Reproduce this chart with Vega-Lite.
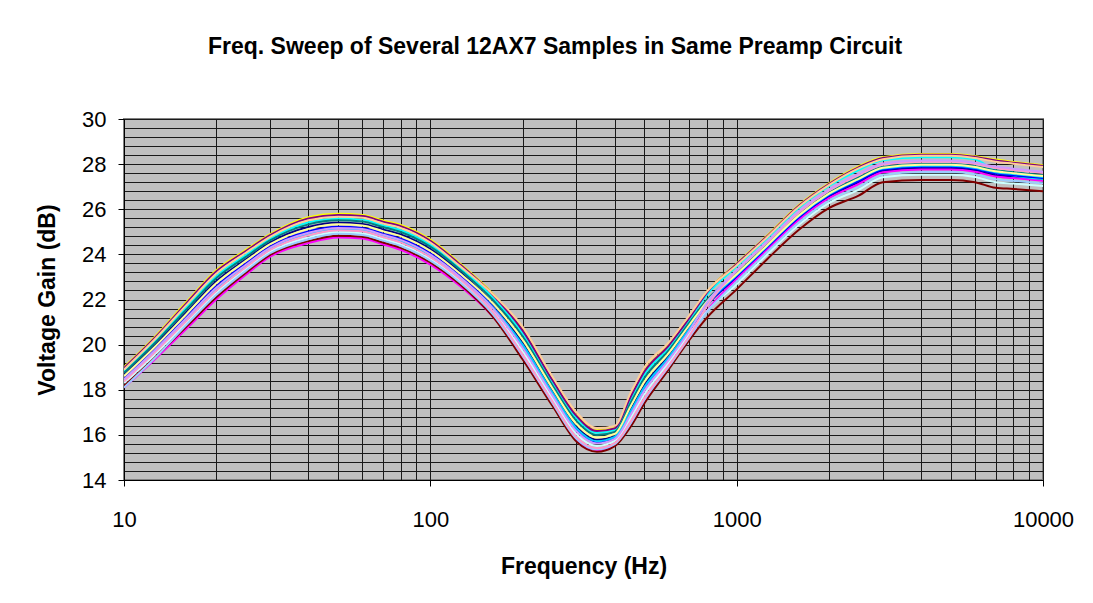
{
"$schema": "https://vega.github.io/schema/vega-lite/v6.json",
"width": 919, "height": 361,
"autosize": {"type": "none"},
"padding": {"left": 124, "top": 119, "right": 50, "bottom": 123},
"background": "white",
"title": {"text": "Freq. Sweep of Several 12AX7 Samples in Same Preamp Circuit", "font": "Liberation Sans", "fontSize": 23, "fontWeight": "bold", "color": "black", "anchor": "middle", "frame": "bounds", "offset": 49},
"config": {"view": {"fill": "#C0C0C0", "stroke": "#808080", "strokeWidth": 2}, "font": "Liberation Sans"},
"datasets": {"d": [
{"s":"S01","f":10,"g":18.66},{"s":"S01","f":12.5,"g":19.92},{"s":"S01","f":16,"g":21.44},{"s":"S01","f":20,"g":22.81},{"s":"S01","f":25,"g":23.78},{"s":"S01","f":30,"g":24.52},{"s":"S01","f":40,"g":25.21},{"s":"S01","f":50,"g":25.40},{"s":"S01","f":60,"g":25.35},{"s":"S01","f":70,"g":25.10},{"s":"S01","f":80,"g":24.88},{"s":"S01","f":100,"g":24.23},{"s":"S01","f":125,"g":23.22},{"s":"S01","f":160,"g":21.82},{"s":"S01","f":200,"g":20.08},{"s":"S01","f":250,"g":17.95},{"s":"S01","f":300,"g":16.35},{"s":"S01","f":350,"g":15.78},{"s":"S01","f":400,"g":15.95},{"s":"S01","f":450,"g":17.10},{"s":"S01","f":500,"g":18.20},{"s":"S01","f":600,"g":19.50},{"s":"S01","f":700,"g":20.75},{"s":"S01","f":800,"g":21.77},{"s":"S01","f":1000,"g":22.97},{"s":"S01","f":1250,"g":24.22},{"s":"S01","f":1600,"g":25.60},{"s":"S01","f":2000,"g":26.55},{"s":"S01","f":2500,"g":27.19},{"s":"S01","f":3000,"g":27.70},{"s":"S01","f":4000,"g":27.82},{"s":"S01","f":5000,"g":27.82},{"s":"S01","f":6000,"g":27.72},{"s":"S01","f":7000,"g":27.51},{"s":"S01","f":8000,"g":27.44},{"s":"S01","f":10000,"g":27.32},
{"s":"S02","f":10,"g":18.10},{"s":"S02","f":12.5,"g":19.30},{"s":"S02","f":16,"g":20.70},{"s":"S02","f":20,"g":22.00},{"s":"S02","f":25,"g":23.10},{"s":"S02","f":30,"g":23.90},{"s":"S02","f":40,"g":24.50},{"s":"S02","f":50,"g":24.75},{"s":"S02","f":60,"g":24.70},{"s":"S02","f":70,"g":24.45},{"s":"S02","f":80,"g":24.20},{"s":"S02","f":100,"g":23.55},{"s":"S02","f":125,"g":22.60},{"s":"S02","f":160,"g":21.24},{"s":"S02","f":200,"g":19.47},{"s":"S02","f":250,"g":17.40},{"s":"S02","f":300,"g":15.80},{"s":"S02","f":350,"g":15.33},{"s":"S02","f":400,"g":15.57},{"s":"S02","f":450,"g":16.47},{"s":"S02","f":500,"g":17.53},{"s":"S02","f":600,"g":19.00},{"s":"S02","f":700,"g":20.29},{"s":"S02","f":800,"g":21.49},{"s":"S02","f":1000,"g":22.91},{"s":"S02","f":1250,"g":24.17},{"s":"S02","f":1600,"g":25.54},{"s":"S02","f":2000,"g":26.49},{"s":"S02","f":2500,"g":27.12},{"s":"S02","f":3000,"g":27.64},{"s":"S02","f":4000,"g":27.76},{"s":"S02","f":5000,"g":27.76},{"s":"S02","f":6000,"g":27.66},{"s":"S02","f":7000,"g":27.45},{"s":"S02","f":8000,"g":27.38},{"s":"S02","f":10000,"g":27.26},
{"s":"S03","f":10,"g":19.00},{"s":"S03","f":12.5,"g":20.30},{"s":"S03","f":16,"g":21.90},{"s":"S03","f":20,"g":23.30},{"s":"S03","f":25,"g":24.20},{"s":"S03","f":30,"g":24.90},{"s":"S03","f":40,"g":25.65},{"s":"S03","f":50,"g":25.80},{"s":"S03","f":60,"g":25.75},{"s":"S03","f":70,"g":25.50},{"s":"S03","f":80,"g":25.30},{"s":"S03","f":100,"g":24.65},{"s":"S03","f":125,"g":23.60},{"s":"S03","f":160,"g":22.25},{"s":"S03","f":200,"g":20.66},{"s":"S03","f":250,"g":18.47},{"s":"S03","f":300,"g":16.87},{"s":"S03","f":350,"g":16.20},{"s":"S03","f":400,"g":16.31},{"s":"S03","f":450,"g":17.70},{"s":"S03","f":500,"g":18.84},{"s":"S03","f":600,"g":19.98},{"s":"S03","f":700,"g":21.19},{"s":"S03","f":800,"g":22.34},{"s":"S03","f":1000,"g":23.60},{"s":"S03","f":1250,"g":24.80},{"s":"S03","f":1600,"g":26.20},{"s":"S03","f":2000,"g":27.15},{"s":"S03","f":2500,"g":27.90},{"s":"S03","f":3000,"g":28.30},{"s":"S03","f":4000,"g":28.45},{"s":"S03","f":5000,"g":28.45},{"s":"S03","f":6000,"g":28.35},{"s":"S03","f":7000,"g":28.20},{"s":"S03","f":8000,"g":28.10},{"s":"S03","f":10000,"g":27.95},
{"s":"S04","f":10,"g":18.82},{"s":"S04","f":12.5,"g":20.10},{"s":"S04","f":16,"g":21.66},{"s":"S04","f":20,"g":23.04},{"s":"S04","f":25,"g":23.98},{"s":"S04","f":30,"g":24.70},{"s":"S04","f":40,"g":25.42},{"s":"S04","f":50,"g":25.59},{"s":"S04","f":60,"g":25.54},{"s":"S04","f":70,"g":25.29},{"s":"S04","f":80,"g":25.08},{"s":"S04","f":100,"g":24.43},{"s":"S04","f":125,"g":23.40},{"s":"S04","f":160,"g":22.08},{"s":"S04","f":200,"g":20.51},{"s":"S04","f":250,"g":18.34},{"s":"S04","f":300,"g":16.74},{"s":"S04","f":350,"g":16.09},{"s":"S04","f":400,"g":16.22},{"s":"S04","f":450,"g":17.55},{"s":"S04","f":500,"g":18.68},{"s":"S04","f":600,"g":19.86},{"s":"S04","f":700,"g":21.08},{"s":"S04","f":800,"g":22.21},{"s":"S04","f":1000,"g":23.46},{"s":"S04","f":1250,"g":24.67},{"s":"S04","f":1600,"g":26.07},{"s":"S04","f":2000,"g":27.02},{"s":"S04","f":2500,"g":27.74},{"s":"S04","f":3000,"g":28.17},{"s":"S04","f":4000,"g":28.31},{"s":"S04","f":5000,"g":28.31},{"s":"S04","f":6000,"g":28.21},{"s":"S04","f":7000,"g":27.70},{"s":"S04","f":8000,"g":27.50},{"s":"S04","f":10000,"g":27.35},
{"s":"S05","f":10,"g":18.96},{"s":"S05","f":12.5,"g":20.25},{"s":"S05","f":16,"g":21.84},{"s":"S05","f":20,"g":23.24},{"s":"S05","f":25,"g":24.15},{"s":"S05","f":30,"g":24.85},{"s":"S05","f":40,"g":25.59},{"s":"S05","f":50,"g":25.75},{"s":"S05","f":60,"g":25.70},{"s":"S05","f":70,"g":25.45},{"s":"S05","f":80,"g":25.25},{"s":"S05","f":100,"g":24.60},{"s":"S05","f":125,"g":23.55},{"s":"S05","f":160,"g":22.21},{"s":"S05","f":200,"g":20.63},{"s":"S05","f":250,"g":18.44},{"s":"S05","f":300,"g":16.84},{"s":"S05","f":350,"g":16.17},{"s":"S05","f":400,"g":16.29},{"s":"S05","f":450,"g":17.67},{"s":"S05","f":500,"g":18.81},{"s":"S05","f":600,"g":19.96},{"s":"S05","f":700,"g":21.17},{"s":"S05","f":800,"g":22.31},{"s":"S05","f":1000,"g":23.57},{"s":"S05","f":1250,"g":24.77},{"s":"S05","f":1600,"g":26.17},{"s":"S05","f":2000,"g":27.12},{"s":"S05","f":2500,"g":27.86},{"s":"S05","f":3000,"g":28.27},{"s":"S05","f":4000,"g":28.42},{"s":"S05","f":5000,"g":28.42},{"s":"S05","f":6000,"g":28.32},{"s":"S05","f":7000,"g":28.16},{"s":"S05","f":8000,"g":28.06},{"s":"S05","f":10000,"g":27.92},
{"s":"S06","f":10,"g":18.17},{"s":"S06","f":12.5,"g":19.38},{"s":"S06","f":16,"g":20.80},{"s":"S06","f":20,"g":22.10},{"s":"S06","f":25,"g":23.19},{"s":"S06","f":30,"g":23.98},{"s":"S06","f":40,"g":24.59},{"s":"S06","f":50,"g":24.83},{"s":"S06","f":60,"g":24.78},{"s":"S06","f":70,"g":24.53},{"s":"S06","f":80,"g":24.29},{"s":"S06","f":100,"g":23.64},{"s":"S06","f":125,"g":22.68},{"s":"S06","f":160,"g":21.24},{"s":"S06","f":200,"g":19.35},{"s":"S06","f":250,"g":17.30},{"s":"S06","f":300,"g":15.70},{"s":"S06","f":350,"g":15.25},{"s":"S06","f":400,"g":15.50},{"s":"S06","f":450,"g":16.35},{"s":"S06","f":500,"g":17.40},{"s":"S06","f":600,"g":18.90},{"s":"S06","f":700,"g":20.20},{"s":"S06","f":800,"g":21.20},{"s":"S06","f":1000,"g":22.45},{"s":"S06","f":1250,"g":23.75},{"s":"S06","f":1600,"g":25.10},{"s":"S06","f":2000,"g":26.05},{"s":"S06","f":2500,"g":26.60},{"s":"S06","f":3000,"g":27.20},{"s":"S06","f":4000,"g":27.30},{"s":"S06","f":5000,"g":27.30},{"s":"S06","f":6000,"g":27.20},{"s":"S06","f":7000,"g":26.95},{"s":"S06","f":8000,"g":26.90},{"s":"S06","f":10000,"g":26.80},
{"s":"S07","f":10,"g":18.75},{"s":"S07","f":12.5,"g":20.02},{"s":"S07","f":16,"g":21.56},{"s":"S07","f":20,"g":22.94},{"s":"S07","f":25,"g":23.89},{"s":"S07","f":30,"g":24.62},{"s":"S07","f":40,"g":25.33},{"s":"S07","f":50,"g":25.51},{"s":"S07","f":60,"g":25.46},{"s":"S07","f":70,"g":25.21},{"s":"S07","f":80,"g":24.99},{"s":"S07","f":100,"g":24.34},{"s":"S07","f":125,"g":23.32},{"s":"S07","f":160,"g":21.98},{"s":"S07","f":200,"g":20.37},{"s":"S07","f":250,"g":18.21},{"s":"S07","f":300,"g":16.61},{"s":"S07","f":350,"g":15.99},{"s":"S07","f":400,"g":16.13},{"s":"S07","f":450,"g":17.40},{"s":"S07","f":500,"g":18.52},{"s":"S07","f":600,"g":19.74},{"s":"S07","f":700,"g":20.97},{"s":"S07","f":800,"g":21.99},{"s":"S07","f":1000,"g":23.16},{"s":"S07","f":1250,"g":24.40},{"s":"S07","f":1600,"g":25.78},{"s":"S07","f":2000,"g":26.73},{"s":"S07","f":2500,"g":27.41},{"s":"S07","f":3000,"g":27.88},{"s":"S07","f":4000,"g":28.01},{"s":"S07","f":5000,"g":28.01},{"s":"S07","f":6000,"g":27.91},{"s":"S07","f":7000,"g":27.73},{"s":"S07","f":8000,"g":27.64},{"s":"S07","f":10000,"g":27.51},
{"s":"S08","f":10,"g":18.51},{"s":"S08","f":12.5,"g":19.75},{"s":"S08","f":16,"g":21.24},{"s":"S08","f":20,"g":22.59},{"s":"S08","f":25,"g":23.60},{"s":"S08","f":30,"g":24.35},{"s":"S08","f":40,"g":25.02},{"s":"S08","f":50,"g":25.22},{"s":"S08","f":60,"g":25.17},{"s":"S08","f":70,"g":24.92},{"s":"S08","f":80,"g":24.70},{"s":"S08","f":100,"g":24.05},{"s":"S08","f":125,"g":23.05},{"s":"S08","f":160,"g":21.67},{"s":"S08","f":200,"g":19.93},{"s":"S08","f":250,"g":17.82},{"s":"S08","f":300,"g":16.22},{"s":"S08","f":350,"g":15.67},{"s":"S08","f":400,"g":15.86},{"s":"S08","f":450,"g":16.95},{"s":"S08","f":500,"g":18.04},{"s":"S08","f":600,"g":19.38},{"s":"S08","f":700,"g":20.64},{"s":"S08","f":800,"g":21.74},{"s":"S08","f":1000,"g":23.03},{"s":"S08","f":1250,"g":24.28},{"s":"S08","f":1600,"g":25.65},{"s":"S08","f":2000,"g":26.60},{"s":"S08","f":2500,"g":27.25},{"s":"S08","f":3000,"g":27.75},{"s":"S08","f":4000,"g":27.88},{"s":"S08","f":5000,"g":27.88},{"s":"S08","f":6000,"g":27.78},{"s":"S08","f":7000,"g":27.58},{"s":"S08","f":8000,"g":27.50},{"s":"S08","f":10000,"g":27.38},
{"s":"S09","f":10,"g":18.42},{"s":"S09","f":12.5,"g":19.65},{"s":"S09","f":16,"g":21.12},{"s":"S09","f":20,"g":22.46},{"s":"S09","f":25,"g":23.49},{"s":"S09","f":30,"g":24.25},{"s":"S09","f":40,"g":24.90},{"s":"S09","f":50,"g":25.12},{"s":"S09","f":60,"g":25.07},{"s":"S09","f":70,"g":24.82},{"s":"S09","f":80,"g":24.59},{"s":"S09","f":100,"g":23.94},{"s":"S09","f":125,"g":22.95},{"s":"S09","f":160,"g":21.64},{"s":"S09","f":200,"g":20.00},{"s":"S09","f":250,"g":17.89},{"s":"S09","f":300,"g":16.29},{"s":"S09","f":350,"g":15.72},{"s":"S09","f":400,"g":15.91},{"s":"S09","f":450,"g":17.03},{"s":"S09","f":500,"g":18.12},{"s":"S09","f":600,"g":19.44},{"s":"S09","f":700,"g":20.70},{"s":"S09","f":800,"g":21.80},{"s":"S09","f":1000,"g":23.08},{"s":"S09","f":1250,"g":24.33},{"s":"S09","f":1600,"g":25.71},{"s":"S09","f":2000,"g":26.66},{"s":"S09","f":2500,"g":27.32},{"s":"S09","f":3000,"g":27.81},{"s":"S09","f":4000,"g":27.93},{"s":"S09","f":5000,"g":27.93},{"s":"S09","f":6000,"g":27.83},{"s":"S09","f":7000,"g":27.64},{"s":"S09","f":8000,"g":27.56},{"s":"S09","f":10000,"g":27.43},
{"s":"S10","f":10,"g":18.30},{"s":"S10","f":12.5,"g":19.52},{"s":"S10","f":16,"g":20.96},{"s":"S10","f":20,"g":22.29},{"s":"S10","f":25,"g":23.34},{"s":"S10","f":30,"g":24.12},{"s":"S10","f":40,"g":24.75},{"s":"S10","f":50,"g":24.98},{"s":"S10","f":60,"g":24.93},{"s":"S10","f":70,"g":24.68},{"s":"S10","f":80,"g":24.44},{"s":"S10","f":100,"g":23.79},{"s":"S10","f":125,"g":22.82},{"s":"S10","f":160,"g":21.46},{"s":"S10","f":200,"g":19.71},{"s":"S10","f":250,"g":17.63},{"s":"S10","f":300,"g":16.03},{"s":"S10","f":350,"g":15.51},{"s":"S10","f":400,"g":15.73},{"s":"S10","f":450,"g":16.73},{"s":"S10","f":500,"g":17.80},{"s":"S10","f":600,"g":19.20},{"s":"S10","f":700,"g":20.48},{"s":"S10","f":800,"g":21.47},{"s":"S10","f":1000,"g":22.68},{"s":"S10","f":1250,"g":23.96},{"s":"S10","f":1600,"g":25.32},{"s":"S10","f":2000,"g":26.27},{"s":"S10","f":2500,"g":26.86},{"s":"S10","f":3000,"g":27.42},{"s":"S10","f":4000,"g":27.53},{"s":"S10","f":5000,"g":27.53},{"s":"S10","f":6000,"g":27.43},{"s":"S10","f":7000,"g":27.20},{"s":"S10","f":8000,"g":27.14},{"s":"S10","f":10000,"g":27.03},
{"s":"S11","f":10,"g":18.60},{"s":"S11","f":12.5,"g":19.85},{"s":"S11","f":16,"g":21.36},{"s":"S11","f":20,"g":22.72},{"s":"S11","f":25,"g":23.71},{"s":"S11","f":30,"g":24.45},{"s":"S11","f":40,"g":25.13},{"s":"S11","f":50,"g":25.33},{"s":"S11","f":60,"g":25.28},{"s":"S11","f":70,"g":25.03},{"s":"S11","f":80,"g":24.81},{"s":"S11","f":100,"g":24.16},{"s":"S11","f":125,"g":23.15},{"s":"S11","f":160,"g":21.83},{"s":"S11","f":200,"g":20.22},{"s":"S11","f":250,"g":18.08},{"s":"S11","f":300,"g":16.48},{"s":"S11","f":350,"g":15.88},{"s":"S11","f":400,"g":16.04},{"s":"S11","f":450,"g":17.25},{"s":"S11","f":500,"g":18.36},{"s":"S11","f":600,"g":19.62},{"s":"S11","f":700,"g":20.86},{"s":"S11","f":800,"g":21.91},{"s":"S11","f":1000,"g":23.12},{"s":"S11","f":1250,"g":24.36},{"s":"S11","f":1600,"g":25.74},{"s":"S11","f":2000,"g":26.69},{"s":"S11","f":2500,"g":27.35},{"s":"S11","f":3000,"g":27.84},{"s":"S11","f":4000,"g":27.97},{"s":"S11","f":5000,"g":27.97},{"s":"S11","f":6000,"g":27.87},{"s":"S11","f":7000,"g":27.68},{"s":"S11","f":8000,"g":27.60},{"s":"S11","f":10000,"g":27.47},
{"s":"S12","f":10,"g":18.10},{"s":"S12","f":12.5,"g":19.35},{"s":"S12","f":16,"g":20.88},{"s":"S12","f":20,"g":22.20},{"s":"S12","f":25,"g":23.27},{"s":"S12","f":30,"g":24.05},{"s":"S12","f":40,"g":24.67},{"s":"S12","f":50,"g":24.91},{"s":"S12","f":60,"g":24.86},{"s":"S12","f":70,"g":24.61},{"s":"S12","f":80,"g":24.37},{"s":"S12","f":100,"g":23.72},{"s":"S12","f":125,"g":22.75},{"s":"S12","f":160,"g":21.34},{"s":"S12","f":200,"g":19.50},{"s":"S12","f":250,"g":17.43},{"s":"S12","f":300,"g":15.83},{"s":"S12","f":350,"g":15.36},{"s":"S12","f":400,"g":15.59},{"s":"S12","f":450,"g":16.50},{"s":"S12","f":500,"g":17.56},{"s":"S12","f":600,"g":19.02},{"s":"S12","f":700,"g":20.31},{"s":"S12","f":800,"g":21.44},{"s":"S12","f":1000,"g":22.80},{"s":"S12","f":1250,"g":24.07},{"s":"S12","f":1600,"g":25.43},{"s":"S12","f":2000,"g":26.38},{"s":"S12","f":2500,"g":26.99},{"s":"S12","f":3000,"g":27.53},{"s":"S12","f":4000,"g":27.65},{"s":"S12","f":5000,"g":27.65},{"s":"S12","f":6000,"g":27.55},{"s":"S12","f":7000,"g":27.33},{"s":"S12","f":8000,"g":27.26},{"s":"S12","f":10000,"g":27.15},
{"s":"S13","f":10,"g":18.37},{"s":"S13","f":12.5,"g":19.60},{"s":"S13","f":16,"g":21.06},{"s":"S13","f":20,"g":22.39},{"s":"S13","f":25,"g":23.43},{"s":"S13","f":30,"g":24.20},{"s":"S13","f":40,"g":24.85},{"s":"S13","f":50,"g":25.07},{"s":"S13","f":60,"g":25.02},{"s":"S13","f":70,"g":24.77},{"s":"S13","f":80,"g":24.53},{"s":"S13","f":100,"g":23.88},{"s":"S13","f":125,"g":22.90},{"s":"S13","f":160,"g":21.45},{"s":"S13","f":200,"g":19.57},{"s":"S13","f":250,"g":17.50},{"s":"S13","f":300,"g":15.90},{"s":"S13","f":350,"g":15.41},{"s":"S13","f":400,"g":15.64},{"s":"S13","f":450,"g":16.58},{"s":"S13","f":500,"g":17.64},{"s":"S13","f":600,"g":19.08},{"s":"S13","f":700,"g":20.37},{"s":"S13","f":800,"g":21.71},{"s":"S13","f":1000,"g":23.26},{"s":"S13","f":1250,"g":24.49},{"s":"S13","f":1600,"g":25.87},{"s":"S13","f":2000,"g":26.82},{"s":"S13","f":2500,"g":27.51},{"s":"S13","f":3000,"g":27.97},{"s":"S13","f":4000,"g":28.11},{"s":"S13","f":5000,"g":28.11},{"s":"S13","f":6000,"g":28.01},{"s":"S13","f":7000,"g":27.83},{"s":"S13","f":8000,"g":27.74},{"s":"S13","f":10000,"g":27.61},
{"s":"S14","f":10,"g":18.46},{"s":"S14","f":12.5,"g":19.70},{"s":"S14","f":16,"g":21.18},{"s":"S14","f":20,"g":22.52},{"s":"S14","f":25,"g":23.54},{"s":"S14","f":30,"g":24.30},{"s":"S14","f":40,"g":24.96},{"s":"S14","f":50,"g":25.17},{"s":"S14","f":60,"g":25.12},{"s":"S14","f":70,"g":24.87},{"s":"S14","f":80,"g":24.64},{"s":"S14","f":100,"g":23.99},{"s":"S14","f":125,"g":23.00},{"s":"S14","f":160,"g":21.61},{"s":"S14","f":200,"g":19.86},{"s":"S14","f":250,"g":17.76},{"s":"S14","f":300,"g":16.16},{"s":"S14","f":350,"g":15.62},{"s":"S14","f":400,"g":15.82},{"s":"S14","f":450,"g":16.88},{"s":"S14","f":500,"g":17.96},{"s":"S14","f":600,"g":19.32},{"s":"S14","f":700,"g":20.59},{"s":"S14","f":800,"g":21.86},{"s":"S14","f":1000,"g":23.31},{"s":"S14","f":1250,"g":24.54},{"s":"S14","f":1600,"g":25.93},{"s":"S14","f":2000,"g":26.88},{"s":"S14","f":2500,"g":27.58},{"s":"S14","f":3000,"g":28.03},{"s":"S14","f":4000,"g":28.16},{"s":"S14","f":5000,"g":28.16},{"s":"S14","f":6000,"g":28.06},{"s":"S14","f":7000,"g":27.89},{"s":"S14","f":8000,"g":27.80},{"s":"S14","f":10000,"g":27.66},
{"s":"S15","f":10,"g":18.89},{"s":"S15","f":12.5,"g":20.18},{"s":"S15","f":16,"g":21.76},{"s":"S15","f":20,"g":23.14},{"s":"S15","f":25,"g":24.07},{"s":"S15","f":30,"g":24.78},{"s":"S15","f":40,"g":25.51},{"s":"S15","f":50,"g":25.67},{"s":"S15","f":60,"g":25.62},{"s":"S15","f":70,"g":25.37},{"s":"S15","f":80,"g":25.17},{"s":"S15","f":100,"g":24.52},{"s":"S15","f":125,"g":23.48},{"s":"S15","f":160,"g":22.23},{"s":"S15","f":200,"g":20.80},{"s":"S15","f":250,"g":18.60},{"s":"S15","f":300,"g":17.00},{"s":"S15","f":350,"g":16.30},{"s":"S15","f":400,"g":16.40},{"s":"S15","f":450,"g":17.85},{"s":"S15","f":500,"g":19.00},{"s":"S15","f":600,"g":20.10},{"s":"S15","f":700,"g":21.30},{"s":"S15","f":800,"g":22.36},{"s":"S15","f":1000,"g":23.52},{"s":"S15","f":1250,"g":24.73},{"s":"S15","f":1600,"g":26.12},{"s":"S15","f":2000,"g":27.07},{"s":"S15","f":2500,"g":27.81},{"s":"S15","f":3000,"g":28.22},{"s":"S15","f":4000,"g":28.37},{"s":"S15","f":5000,"g":28.37},{"s":"S15","f":6000,"g":28.27},{"s":"S15","f":7000,"g":28.11},{"s":"S15","f":8000,"g":28.02},{"s":"S15","f":10000,"g":27.87}
]},
"data": {"name": "d"},
"mark": {"type": "line", "strokeWidth": 2, "interpolate": "monotone", "clip": true},
"encoding": {
"x": {"field": "f", "type": "quantitative",
 "scale": {"type": "log", "domain": [10, 10000], "nice": false},
 "axis": {"title": "Frequency (Hz)", "titleFontSize": 23, "titleFontWeight": "bold", "titleColor": "black", "titlePadding": 25,
  "values": [10,20,30,40,50,60,70,80,90,100,200,300,400,500,600,700,800,900,1000,2000,3000,4000,5000,6000,7000,8000,9000,10000],
  "labelExpr": "indexof([10,100,1000,10000], datum.value) >= 0 ? format(datum.value, 'd') : ''",
  "labelFontSize": 22, "labelColor": "black", "labelPadding": 23, "labelFlush": false, "labelOverlap": false,
  "tickSize": 6, "tickColor": "black", "tickOpacity": {"condition": {"test": "indexof([10,100,1000,10000], datum.value) >= 0", "value": 1}, "value": 0},
  "domainColor": "black", "domainWidth": 1,
  "grid": true, "gridColor": "#1a1a1a", "gridWidth": 1, "gridOpacity": 1}},
"y": {"field": "g", "type": "quantitative",
 "scale": {"domain": [14, 30], "nice": false, "zero": false},
 "axis": {"title": "Voltage Gain (dB)", "titleFontSize": 23, "titleFontWeight": "bold", "titleColor": "black", "titlePadding": 22,
  "values": [14,14.4,14.8,15.2,15.6,16,16.4,16.8,17.2,17.6,18,18.4,18.8,19.2,19.6,20,20.4,20.8,21.2,21.6,22,22.4,22.8,23.2,23.6,24,24.4,24.8,25.2,25.6,26,26.4,26.8,27.2,27.6,28,28.4,28.8,29.2,29.6,30],
  "labelExpr": "datum.value % 2 == 0 ? format(datum.value, 'd') : ''",
  "labelFontSize": 22, "labelColor": "black", "labelPadding": 12, "labelOverlap": false,
  "tickSize": 6, "tickColor": "black", "tickOpacity": {"condition": {"test": "datum.value % 2 == 0", "value": 1}, "value": 0},
  "domainColor": "black", "domainWidth": 1,
  "grid": true, "gridColor": "#1a1a1a", "gridWidth": 1, "gridOpacity": 1}},
"color": {"field": "s", "type": "nominal", "legend": null,
 "scale": {"domain": ["S01","S02","S03","S04","S05","S06","S07","S08","S09","S10","S11","S12","S13","S14","S15"],
  "range": ["#000080","#FF00FF","#FFFF00","#00FFFF","#800080","#800000","#008080","#0000FF","#00CCFF","#CCFFFF","#FFFF99","#99CCFF","#FF99CC","#CC99FF","#FFCC99"]}}
}
}
